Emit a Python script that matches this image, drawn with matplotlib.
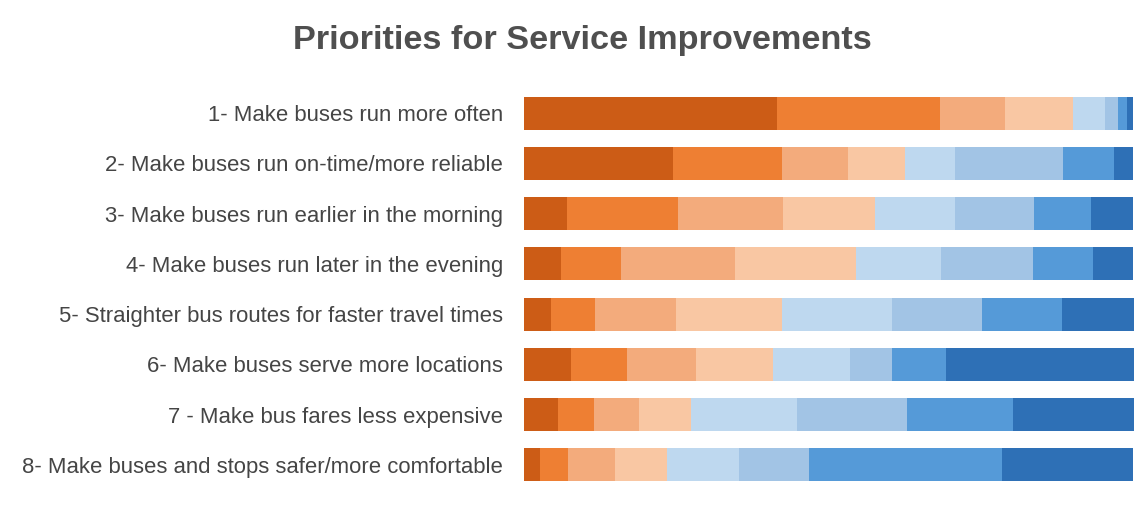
import matplotlib
matplotlib.use("Agg")
import matplotlib.pyplot as plt
import numpy as np

categories = [
    "1- Make buses run more often",
    "2- Make buses run on-time/more reliable",
    "3- Make buses run earlier in the morning",
    "4- Make buses run later in the evening",
    "5- Straighter bus routes for faster travel times",
    "6- Make buses serve more locations",
    "7 - Make bus fares less expensive",
    "8- Make buses and stops safer/more comfortable",
]

# Share of respondents giving each rank (1 = highest priority ... 8 = lowest), in %
rank1 = [41.5, 24.4, 7.0, 6.1, 4.4, 7.7, 5.6, 2.6]
rank2 = [26.7, 17.9, 18.2, 9.8, 7.2, 9.2, 5.9, 4.6]
rank3 = [10.7, 10.8, 17.2, 18.7, 13.3, 11.3, 7.4, 7.7]
rank4 = [11.1, 9.3, 15.2, 19.8, 17.4, 12.6, 8.4, 8.5]
rank5 = [5.2, 8.2, 13.0, 13.9, 18.0, 12.6, 17.5, 11.8]
rank6 = [2.1, 17.7, 13.0, 15.2, 14.8, 6.9, 18.0, 11.6]
rank7 = [1.5, 8.5, 9.3, 9.7, 13.1, 8.9, 17.4, 31.5]
rank8 = [1.1, 3.1, 7.0, 6.7, 11.8, 30.8, 19.8, 21.6]

series = [rank1, rank2, rank3, rank4, rank5, rank6, rank7, rank8]
colors = ["#CC5C16", "#EE7F33", "#F3AB7C", "#F9C7A3",
          "#BED8EF", "#A2C4E5", "#559AD8", "#2E70B6"]

plt.rcParams['font.family'] = ['Liberation Sans', 'DejaVu Sans']

fig = plt.figure(figsize=(11.47, 5.12), dpi=100)
ax = fig.add_axes([524/1147, 1 - 490/512, 610/1147, 402/512])

y = np.arange(len(categories))
left = np.zeros(len(categories))
for vals, c in zip(series, colors):
    vals = np.array(vals)
    ax.barh(y, vals, left=left, height=0.66, color=c, edgecolor='none')
    left += vals

ax.set_xlim(0, left.max())
ax.set_ylim(len(categories) - 0.5, -0.5)
ax.set_yticks(y)
ax.set_yticklabels(categories, fontsize=15.9, color="#454545")
ax.tick_params(axis='y', length=0, pad=15)
ax.set_xticks([])
for s in ax.spines.values():
    s.set_visible(False)

fig.text(582/1147, 1 - 41/512, "Priorities for Service Improvements",
         ha='center', va='center', fontsize=24.7, fontweight='bold', color="#4f4f4f")

fig.savefig("out.png", dpi=100, facecolor='white')
